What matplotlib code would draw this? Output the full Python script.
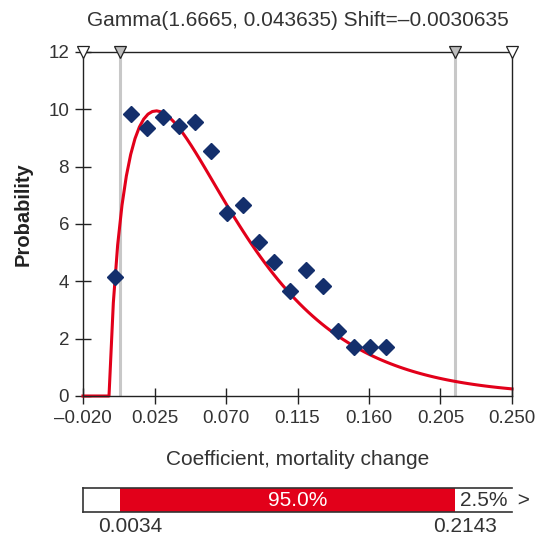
import math
import numpy as np
import matplotlib
matplotlib.use("Agg")
import matplotlib.pyplot as plt
import matplotlib.transforms as mtransforms

# Fitted distribution parameters
shape_k = 1.6665
scale_theta = 0.043635
shift = -0.0030635

# Percentile bounds (2.5% / 97.5%)
p_low = 0.0034
p_high = 0.2143
mid_pct = "95.0%"
tail_pct = "2.5%"

# Observed density points
obs_x = [0.0003, 0.0104, 0.0203, 0.0303, 0.0406, 0.0507, 0.0605, 0.0706, 0.0807,
         0.0905, 0.1004, 0.1105, 0.1203, 0.1308, 0.1405, 0.1503, 0.1606, 0.1704]
obs_y = [4.16, 9.83, 9.34, 9.72, 9.43, 9.57, 8.55, 6.37, 6.66,
         5.38, 4.66, 3.67, 4.39, 3.85, 2.28, 1.70, 1.70, 1.70]

x_ticks = [-0.020, 0.025, 0.070, 0.115, 0.160, 0.205, 0.250]
y_ticks = [0, 2, 4, 6, 8, 10, 12]
x_range = (-0.020, 0.250)
y_range = (0, 12)

RED = "#e2001a"
NAVY = "#142f6c"
GRAY = "#c8c8c8"
TXT = "#333333"

plt.rcParams["font.family"] = ["Liberation Sans", "DejaVu Sans"]


def gamma_pdf(x):
    z = np.asarray(x) - shift
    out = np.zeros_like(z)
    pos = z > 0
    zp = z[pos]
    out[pos] = np.exp((shape_k - 1) * np.log(zp) - zp / scale_theta
                      - math.lgamma(shape_k) - shape_k * math.log(scale_theta))
    return out


fig = plt.figure(figsize=(5.41, 5.39), dpi=100)
ax = fig.add_axes([83 / 541, 143 / 539, 429 / 541, 344 / 539])

curve_x = np.linspace(x_range[0], x_range[1], 100)
curve_y = gamma_pdf(curve_x)

for v in (p_low, p_high):
    ax.axvline(v, color=GRAY, lw=2.2, zorder=1)

ax.plot(curve_x, curve_y, color=RED, lw=2.2, zorder=2, clip_on=False)
ax.plot(obs_x, obs_y, linestyle="none", marker="D", markersize=8.5,
        color=NAVY, zorder=3)

# Markers on the top edge
ax.plot([x_range[0], x_range[1]], [y_range[1]] * 2, linestyle="none", marker="v",
        markersize=9, markerfacecolor="white", markeredgecolor="#222222",
        markeredgewidth=0.9, clip_on=False, zorder=5)
ax.plot([p_low, p_high], [y_range[1]] * 2, linestyle="none", marker="v",
        markersize=9, markerfacecolor="#bdbdbd", markeredgecolor="#222222",
        markeredgewidth=0.9, clip_on=False, zorder=5)

ax.set_xlim(*x_range)
ax.set_ylim(*y_range)
ax.set_xticks(x_ticks)
ax.set_xticklabels([f"{v:.3f}".replace("-", "\u2013") for v in x_ticks])
ax.set_yticks(y_ticks)
ax.set_yticklabels([str(v) for v in y_ticks])
ax.tick_params(axis="both", direction="inout", length=12, width=1.0,
               color="#222222", labelsize=13.5, labelcolor=TXT)
ax.tick_params(axis="x", pad=4)
ax.tick_params(axis="y", pad=4)
for s in ax.spines.values():
    s.set_color("#222222")
    s.set_linewidth(1.0)

ax.set_ylabel("Probability", fontsize=14.5, fontweight="bold", color="#222222")
ax.yaxis.set_label_coords(-0.117, 0.529)
ax.text(0.5, 1.093, f"Gamma({shape_k}, {scale_theta}) Shift=\u2013{abs(shift)}",
        transform=ax.transAxes, ha="center", va="center", fontsize=15, color=TXT)
ax.text(0.5, -0.186, "Coefficient, mortality change", transform=ax.transAxes,
        ha="center", va="center", fontsize=15, color=TXT)

# Percentile bar
bx = fig.add_axes([83 / 541, 27 / 539, 429 / 541, 24 / 539])
bx.set_xlim(*x_range)
bx.set_ylim(0, 1)
bx.axvspan(p_low, p_high, color=RED, lw=0)
bx.set_xticks([])
bx.set_yticks([])
bx.spines["right"].set_visible(False)
for s in ("top", "bottom", "left"):
    bx.spines[s].set_color("#333333")
    bx.spines[s].set_linewidth(1.2)

bx.text(0.5, 0.5, mid_pct, transform=bx.transAxes, ha="center", va="center",
        fontsize=15, color="white")
bx.text((p_high + x_range[1]) / 2, 0.5, tail_pct, ha="center", va="center",
        fontsize=15, color=TXT)
bx.text(1.0, 0.5, " >", transform=bx.transAxes, ha="left", va="center",
        fontsize=15, color=TXT, clip_on=False)
for v in (p_low, p_high):
    tr = mtransforms.offset_copy(bx.transData, fig=fig, x=10, y=0, units="dots")
    bx.text(v, -0.62, f"{v:.4f}", transform=tr, ha="center", va="center",
            fontsize=15, color=TXT, clip_on=False)

fig.savefig("out.png", dpi=100)
